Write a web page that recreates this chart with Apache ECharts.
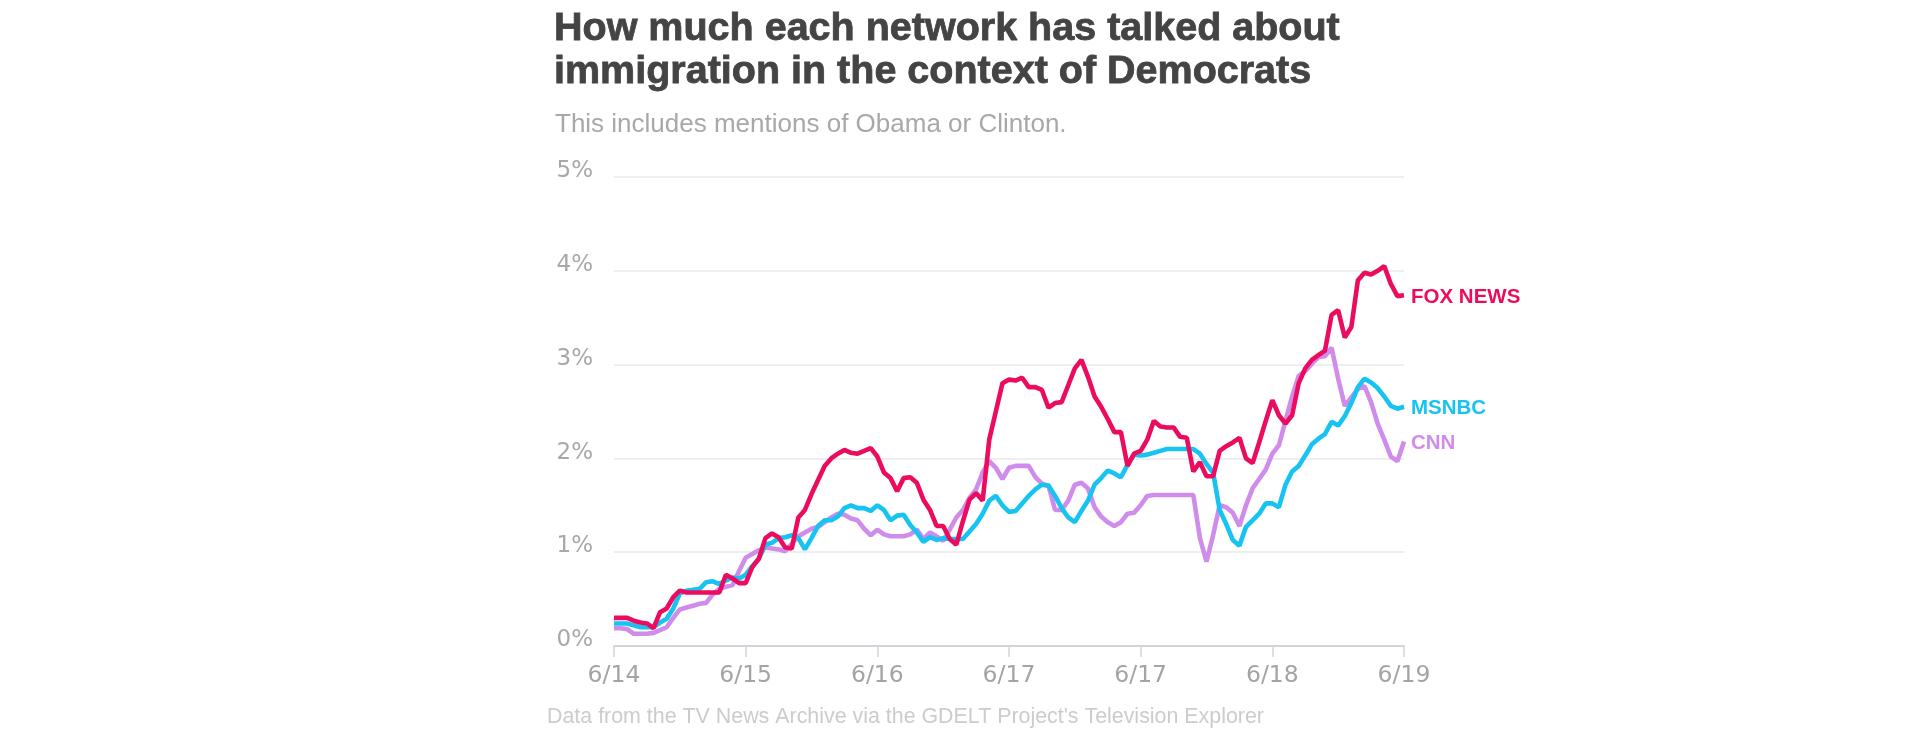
<!DOCTYPE html>
<html lang="en">
<head>
    <meta charset="UTF-8">
    <title>Immigration mentions by network</title>
    <script src="https://cdn.jsdelivr.net/npm/echarts@6/dist/echarts.min.js"></script>
    <style>
        html, body { margin: 0; padding: 0; background: #fff; }
        #main { width: 1920px; height: 740px; }
    </style>
</head>
<body>
    <div id="main"></div>
    <script>
        // tick labels under the x axis (one every 20 samples)
        var tickLabels = ['6/14', '6/15', '6/16', '6/17', '6/17', '6/18', '6/19'];
        var yTicks = [0, 1, 2, 3, 4, 5];

        // share of coverage, % (121 samples)
        var fox = [
            0.30, 0.30, 0.30, 0.27, 0.25, 0.24, 0.19, 0.36, 0.40, 0.52,
            0.59, 0.57, 0.57, 0.57, 0.57, 0.57, 0.57, 0.76, 0.72, 0.67,
            0.67, 0.84, 0.93, 1.15, 1.20, 1.16, 1.05, 1.04, 1.37, 1.45,
            1.62, 1.77, 1.92, 2.00, 2.05, 2.09, 2.06, 2.05, 2.08, 2.11,
            2.02, 1.85, 1.79, 1.65, 1.79, 1.80, 1.74, 1.56, 1.45, 1.28,
            1.28, 1.14, 1.08, 1.33, 1.56, 1.63, 1.55, 2.20, 2.50, 2.80,
            2.84, 2.83, 2.86, 2.76, 2.76, 2.73, 2.54, 2.59, 2.60, 2.78,
            2.96, 3.05, 2.87, 2.66, 2.55, 2.42, 2.28, 2.28, 1.92, 2.05,
            2.08, 2.20, 2.40, 2.34, 2.33, 2.33, 2.23, 2.22, 1.86, 1.96,
            1.81, 1.81, 2.08, 2.13, 2.17, 2.22, 2.00, 1.95, 2.17, 2.40,
            2.62, 2.46, 2.37, 2.46, 2.80, 2.96, 3.05, 3.10, 3.15, 3.53,
            3.58, 3.29, 3.40, 3.90, 3.98, 3.96, 4.00, 4.05, 3.86, 3.73,
            3.74
        ];
        var msnbc = [
            0.24, 0.24, 0.24, 0.22, 0.20, 0.20, 0.20, 0.25, 0.29, 0.40,
            0.56, 0.59, 0.60, 0.61, 0.68, 0.69, 0.66, 0.70, 0.73, 0.72,
            0.76, 0.85, 0.93, 1.08, 1.10, 1.15, 1.16, 1.18, 1.15, 1.03,
            1.15, 1.28, 1.34, 1.34, 1.38, 1.47, 1.50, 1.47, 1.47, 1.44,
            1.50, 1.45, 1.34, 1.39, 1.40, 1.29, 1.21, 1.11, 1.16, 1.13,
            1.15, 1.14, 1.14, 1.14, 1.22, 1.30, 1.41, 1.55, 1.60, 1.50,
            1.43, 1.44, 1.52, 1.60, 1.67, 1.72, 1.71, 1.60, 1.47, 1.37,
            1.32, 1.44, 1.55, 1.72, 1.79, 1.87, 1.84, 1.80, 1.93, 2.04,
            2.03, 2.04, 2.06, 2.08, 2.10, 2.10, 2.10, 2.10, 2.10, 2.05,
            1.94, 1.85, 1.45, 1.30, 1.13, 1.07, 1.27, 1.34, 1.41, 1.52,
            1.52, 1.48, 1.72, 1.86, 1.92, 2.03, 2.15, 2.21, 2.26, 2.39,
            2.35, 2.45, 2.59, 2.76, 2.85, 2.81, 2.75, 2.66, 2.56, 2.53,
            2.55
        ];
        var cnn = [
            0.19, 0.19, 0.18, 0.13, 0.13, 0.13, 0.14, 0.17, 0.20, 0.30,
            0.39, 0.41, 0.43, 0.45, 0.46, 0.55, 0.61, 0.63, 0.65, 0.80,
            0.94, 0.98, 1.02, 1.05, 1.04, 1.03, 1.01, 1.09, 1.17, 1.21,
            1.25, 1.27, 1.32, 1.37, 1.41, 1.40, 1.36, 1.34, 1.25, 1.18,
            1.24, 1.19, 1.17, 1.17, 1.17, 1.19, 1.24, 1.14, 1.21, 1.17,
            1.12, 1.24, 1.37, 1.45, 1.58, 1.67, 1.85, 1.97, 1.90, 1.78,
            1.90, 1.92, 1.92, 1.92, 1.80, 1.73, 1.71, 1.45, 1.45, 1.55,
            1.72, 1.74, 1.68, 1.48, 1.38, 1.32, 1.28, 1.32, 1.41, 1.42,
            1.50, 1.60, 1.61, 1.61, 1.61, 1.61, 1.61, 1.61, 1.61, 1.15,
            0.90, 1.18, 1.50, 1.48, 1.42, 1.28, 1.50, 1.68, 1.78, 1.88,
            2.05, 2.14, 2.40, 2.66, 2.88, 2.93, 3.01, 3.08, 3.09, 3.18,
            2.85, 2.56, 2.65, 2.74, 2.77, 2.60, 2.37, 2.20, 2.02, 1.97,
            2.18
        ];

        var font = '"Liberation Sans", Arial, sans-serif';
        var axisFont = '"DejaVu Sans", Verdana, sans-serif';

        function pairs(arr) {
            var out = [];
            for (var i = 0; i < arr.length; i++) {
                out.push([i, arr[i]]);
            }
            return out;
        }

        function makeSeries(name, values, color) {
            return {
                name: name,
                type: 'line',
                data: pairs(values),
                symbol: 'none',
                lineStyle: { color: color, width: 4.6 },
                itemStyle: { color: color },
                endLabel: {
                    show: true,
                    formatter: name,
                    color: color,
                    fontFamily: font,
                    fontWeight: 'bold',
                    fontSize: 20.5,
                    distance: 7,
                    offset: [0, 2]
                }
            };
        }

        var myChart = echarts.init(document.getElementById('main'));
        var option = {
            animation: false,
            title: [{
                text: 'How much each network has talked about\nimmigration in the context of Democrats',
                left: 554,
                top: 8,
                padding: 0,
                textStyle: {
                    fontFamily: font,
                    fontSize: 39.5,
                    fontWeight: 'bold',
                    color: '#444444',
                    lineHeight: 42.5,
                    textBorderColor: '#444444',
                    textBorderWidth: 0.8
                }
            }, {
                text: 'This includes mentions of Obama or Clinton.',
                left: 555,
                top: 112,
                padding: 0,
                textStyle: {
                    fontFamily: font,
                    fontSize: 26,
                    fontWeight: 'normal',
                    color: '#a8a8a8'
                }
            }, {
                text: 'Data from the TV News Archive via the GDELT Project\'s Television Explorer',
                left: 547,
                top: 707,
                padding: 0,
                textStyle: {
                    fontFamily: font,
                    fontSize: 21.4,
                    fontWeight: 'normal',
                    color: '#cccccc'
                }
            }],
            grid: {
                left: 614,
                right: 516,
                top: 177,
                bottom: 94
            },
            xAxis: {
                type: 'value',
                min: 0,
                max: 120,
                interval: 20,
                axisLine: { show: true, lineStyle: { color: '#d4d4d8', width: 2 } },
                axisTick: { show: true, length: 11, lineStyle: { color: '#d4d4e0', width: 1.5 } },
                splitLine: { show: false },
                axisLabel: {
                    margin: 18,
                    fontFamily: axisFont,
                    fontSize: 23.5,
                    color: '#a4a4a4',
                    formatter: function (v) { return tickLabels[v / 20]; }
                }
            },
            yAxis: {
                type: 'value',
                min: yTicks[0],
                max: yTicks[yTicks.length - 1],
                interval: 1,
                axisLine: { show: false },
                axisTick: { show: false },
                splitLine: { lineStyle: { color: '#e8e8e8', width: 1.5 } },
                axisLabel: {
                    margin: 21,
                    fontFamily: axisFont,
                    fontSize: 23,
                    color: '#a8a8a8',
                    verticalAlign: 'bottom',
                    lineHeight: 11.5,
                    formatter: '{value}%'
                }
            },
            series: [
                makeSeries('CNN', cnn, '#d08ceb'),
                makeSeries('MSNBC', msnbc, '#17c3f0'),
                makeSeries('FOX NEWS', fox, '#ec0c5f')
            ]
        };
        myChart.setOption(option);
    </script>
</body>
</html>
